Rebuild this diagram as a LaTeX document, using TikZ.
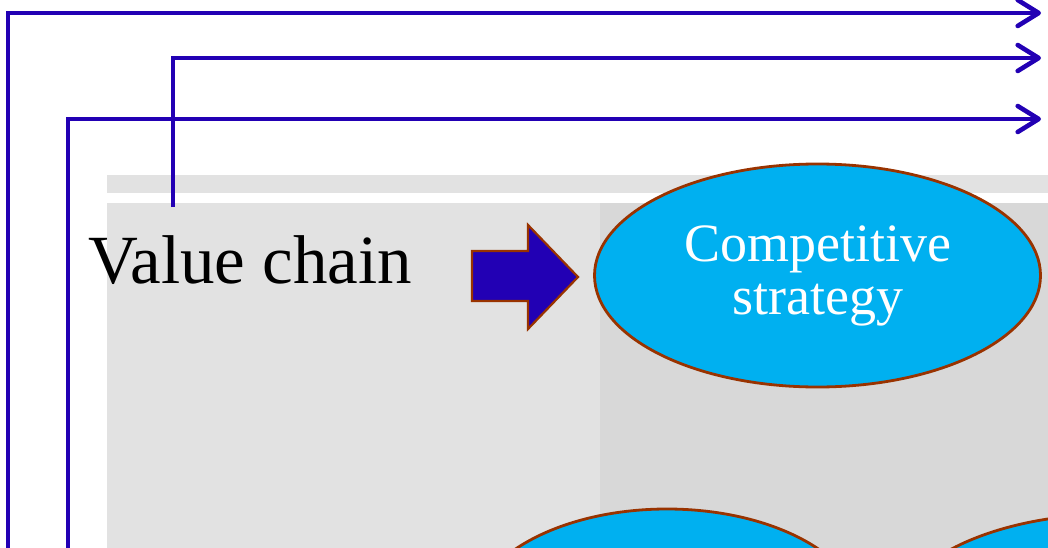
\documentclass[tikz,border=0pt]{standalone}
\usepackage{fontspec}
\setmainfont{Liberation Serif}
\usetikzlibrary{arrows.meta,shapes.geometric}
\definecolor{linkblue}{RGB}{34,0,180}
\definecolor{ovalfill}{RGB}{0,176,240}
\definecolor{rim}{RGB}{153,51,0}
\definecolor{slate}{RGB}{216,216,216}
\definecolor{slatelt}{RGB}{226,226,226}
\tikzset{
  link/.style={linkblue, line width=4.6pt, line join=miter,
               -{Straight Barb[length=21pt, width=26pt, line cap=round, line join=round]}},
  oval/.style={ellipse, draw=rim, line width=2.8pt, fill=ovalfill, inner sep=0pt,
               text=white, align=center,
               font=\fontsize{54}{53}\selectfont},
  blockarrow/.style={draw=rim, line width=2.2pt, fill=linkblue, line join=miter},
}

\begin{document}
\begin{tikzpicture}[x=1pt, y=-1pt]
  \useasboundingbox (0,0) rectangle (1048,548);
  \clip (0,0) rectangle (1048,548);

  % slide backdrop
  \fill[slatelt] (107,175) rectangle (1048,548);
  \fill[slate] (600,203) rectangle (1048,548);
  \fill[white] (107,193) rectangle (1048,203);

  \node[anchor=base west, inner sep=0pt, font=\fontsize{69}{69}\selectfont]
    (vc) at (88,283) {Value chain};

  % fat arrow into the strategy oval
  \draw[blockarrow] (472,251) -- (528,251) -- (528,225) -- (578,277)
    -- (528,329) -- (528,301) -- (472,301) -- cycle;

  \node[oval, minimum width=446pt, minimum height=223pt] (cs) at (817.5,275.5)
    {Competitive\\strategy};
  \node[oval, minimum width=394pt, minimum height=222pt] (lo) at (667,620) {};
  \node[oval, minimum width=446pt, minimum height=222pt] (ro) at (1114,625) {};

  % feedback lines
  \coordinate (s1) at (8,548);
  \coordinate (s2) at (173,207);
  \coordinate (s3) at (68,548);
  \coordinate (e1) at (1041,13);
  \coordinate (e2) at (1041,58);
  \coordinate (e3) at (1041,119);
  \draw[link] (s1) |- (e1);
  \draw[link] (s2) |- (e2);
  \draw[link] (s3) |- (e3);
\end{tikzpicture}
\end{document}
